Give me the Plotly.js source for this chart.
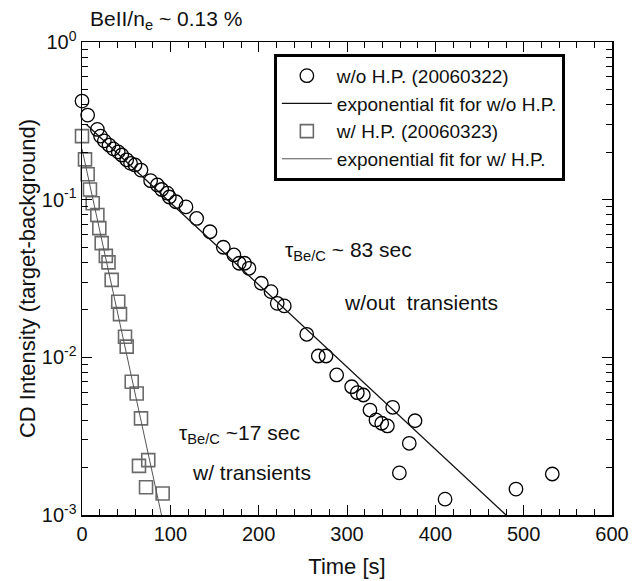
<!DOCTYPE html>
<html>
<head>
<meta charset="utf-8">
<script src="https://cdn.plot.ly/plotly-3.0.1.min.js"></script>
<style>
html,body{margin:0;padding:0;background:#fff;}
#chart{width:639px;height:581px;}
</style>
</head>
<body>
<div id="chart"></div>
<script>
// w/o H.P. (20060322) data
var woTime = [0, 6.4, 17.4, 21, 25.3, 30.6, 35.5, 41, 45, 50.6, 55, 60, 66.8, 77.7, 85.3, 90.2, 96.6, 98.9, 106.4, 117.7, 129.8, 144.9, 160, 172, 178, 184, 189, 203, 214, 221, 229, 254.4, 267.5, 276.2, 288.3, 305.3, 311.7, 318.5, 326, 332.8, 339.3, 345.7, 351.7, 359.3, 370.5, 377, 411, 491.3, 532.4];
var woIntensity = [0.422, 0.344, 0.279, 0.253, 0.236, 0.222, 0.210, 0.201, 0.192, 0.179, 0.170, 0.166, 0.154, 0.132, 0.124, 0.116, 0.110, 0.104, 0.097, 0.090, 0.076, 0.0626, 0.0499, 0.0446, 0.0395, 0.0395, 0.0367, 0.0295, 0.0261, 0.0220, 0.0212, 0.0140, 0.0102, 0.0102, 0.00773, 0.00651, 0.00597, 0.00577, 0.00463, 0.00401, 0.00382, 0.00367, 0.00482, 0.00185, 0.00285, 0.00396, 0.00126, 0.00146, 0.00182];

// w/ H.P. (20060323) data
var wTime = [0, 3.4, 6.4, 9, 12.1, 17.4, 19.6, 22.3, 27, 30, 33.6, 41, 43, 48.7, 50.6, 56.3, 61.9, 66.8, 64.5, 75, 72.5, 91.3];
var wIntensity = [0.253, 0.180, 0.145, 0.116, 0.095, 0.080, 0.066, 0.053, 0.044, 0.040, 0.031, 0.0225, 0.0188, 0.0135, 0.0117, 0.0070, 0.0059, 0.0041, 0.00205, 0.00223, 0.0015, 0.00137];

// exponential fits (end points; straight on log scale)
var woFitTime = [5, 480];
var woFitIntensity = [0.30, 0.001];
var wFitTime = [0, 90];
var wFitIntensity = [0.21, 0.001];

// tick labels
var yTickVals = [1, 0.1, 0.01, 0.001];
var yTickText = ['10<sup>0</sup>', '10<sup>-1</sup>', '10<sup>-2</sup>', '10<sup>-3</sup>'];
var yMinorVals = [];
[0.001, 0.01, 0.1].forEach(function (d) { for (var k = 2; k <= 9; k++) yMinorVals.push(+(d * k).toPrecision(3)); });

var FONT = 'Liberation Sans, Arial, Helvetica, sans-serif';

var traces = [
  {x: woTime, y: woIntensity, mode: 'markers', type: 'scatter', name: 'w/o H.P. (20060322)', cliponaxis: false,
   marker: {symbol: 'circle-open', size: 13.5, color: '#000', line: {width: 1.3, color: '#000'}}},
  {x: woFitTime, y: woFitIntensity, mode: 'lines', type: 'scatter', name: 'exponential fit for w/o H.P.',
   line: {color: '#111', width: 1.3}},
  {x: wTime, y: wIntensity, mode: 'markers', type: 'scatter', name: 'w/ H.P. (20060323)', cliponaxis: false,
   marker: {symbol: 'square-open', size: 13, color: '#6a6a6a', line: {width: 1.6, color: '#6a6a6a'}}},
  {x: wFitTime, y: wFitIntensity, mode: 'lines', type: 'scatter', name: 'exponential fit for w/ H.P.',
   line: {color: '#555', width: 1}}
];

var layout = {
  width: 639, height: 581,
  margin: {l: 82, r: 27, t: 42, b: 66},
  paper_bgcolor: '#fff', plot_bgcolor: '#fff',
  font: {family: FONT, color: '#111', size: 20},
  showlegend: true,
  legend: {x: 0.362, y: 0.975, xanchor: 'left', yanchor: 'top',
           bordercolor: '#000', borderwidth: 3, bgcolor: '#fff',
           font: {family: FONT, size: 19, color: '#111'}, itemwidth: 50, tracegroupgap: 0},
  xaxis: {
    range: [0, 600], showgrid: false, zeroline: false,
    showline: true, linecolor: '#000', linewidth: 1.5, mirror: 'ticks',
    ticks: 'inside', ticklen: 10, tickwidth: 1, tickcolor: '#000',
    tickmode: 'linear', tick0: 0, dtick: 100,
    minor: {ticks: 'inside', ticklen: 6, tickwidth: 1, tickcolor: '#000', dtick: 20, tick0: 0, showgrid: false},
    tickfont: {family: FONT, size: 20, color: '#111'},
    title: {text: 'Time [s]', font: {family: FONT, size: 22, color: '#111'}, standoff: 15}
  },
  yaxis: {
    type: 'log', range: [-3, 0], showgrid: false, zeroline: false,
    showline: true, linecolor: '#000', linewidth: 1.5, mirror: 'ticks',
    ticks: 'inside', ticklen: 10, tickwidth: 1, tickcolor: '#000',
    tickmode: 'array', tickvals: yTickVals, ticktext: yTickText,
    minor: {ticks: 'inside', ticklen: 6, tickwidth: 1, tickcolor: '#000', tickmode: 'array', tickvals: yMinorVals, showgrid: false},
    tickfont: {family: FONT, size: 20, color: '#111'},
    title: {text: 'CD Intensity (target-background)', font: {family: FONT, size: 22, color: '#111'}, standoff: 0}
  },
  annotations: [
    {xref: 'paper', yref: 'paper', x: 0.011, y: 1.0465, xanchor: 'left', yanchor: 'middle', align: 'left', showarrow: false,
     text: 'BeII/n<sub>e</sub> ~ 0.13 %', font: {family: FONT, size: 21, color: '#111'}},
    {xref: 'paper', yref: 'paper', x: 0.379, y: 0.558, xanchor: 'left', yanchor: 'middle', align: 'left', showarrow: false,
     text: '\u03c4<sub>Be/C</sub> ~ 83 sec', font: {family: FONT, size: 21, color: '#111'}},
    {xref: 'paper', yref: 'paper', x: 0.4906, y: 0.4503, xanchor: 'left', yanchor: 'middle', align: 'left', showarrow: false,
     text: 'w/out  transients', font: {family: FONT, size: 21, color: '#111'}},
    {xref: 'paper', yref: 'paper', x: 0.179, y: 0.171, xanchor: 'left', yanchor: 'middle', align: 'left', showarrow: false,
     text: '\u03c4<sub>Be/C</sub> ~17 sec', font: {family: FONT, size: 21, color: '#111'}},
    {xref: 'paper', yref: 'paper', x: 0.2038, y: 0.0909, xanchor: 'left', yanchor: 'middle', align: 'left', showarrow: false,
     text: 'w/ transients', font: {family: FONT, size: 21, color: '#111'}}
  ]
};

Plotly.newPlot('chart', traces, layout, {staticPlot: true, displayModeBar: false});
</script>
</body>
</html>
